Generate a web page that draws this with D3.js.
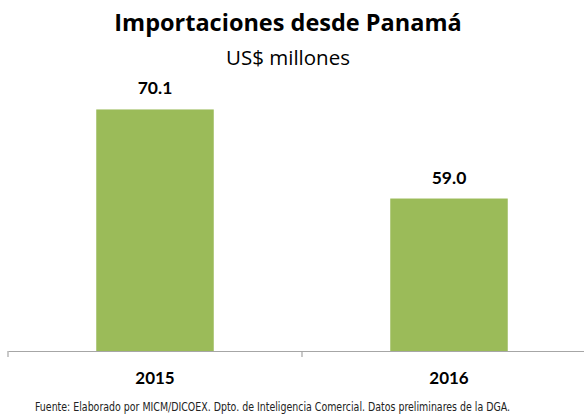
<!DOCTYPE html>
<html>
<head>
<meta charset="utf-8">
<title>Importaciones desde Panamá</title>
<style>
  body { margin: 0; background: #fff; }
  svg { display: block; }
  text { font-family: Lato, "Open Sans", sans-serif; fill: #000; }
</style>
</head>
<body>
<svg id="chart" width="584" height="417"></svg>
<script src="https://cdn.jsdelivr.net/npm/d3@7/dist/d3.min.js"></script>
<script>
// data
var years = ['2015', '2016'];
var values = [70.1, 59.0];
var labels = ['70.1', '59.0'];

var svg = d3.select('#chart');

// plot area (the axis runs past the right edge, as in the original)
var x = d3.scaleBand()
  .domain(years)
  .range([8, 596])
  .paddingInner(0)
  .paddingOuter(0);

var y = d3.scaleLinear()
  .domain([40, 80])
  .range([351, 30]);

var barW = 117.5;

// bars
svg.selectAll('rect.bar')
  .data(values)
  .enter()
  .append('rect')
  .attr('class', 'bar')
  .attr('x', function (d, i) { return x(years[i]) + x.bandwidth() / 2 - barW / 2; })
  .attr('y', function (d) { return y(d); })
  .attr('width', barW)
  .attr('height', function (d) { return y(40) - y(d); })
  .style('fill', '#9bbb59');

// value labels
svg.selectAll('text.val')
  .data(values)
  .enter()
  .append('text')
  .attr('class', 'val')
  .attr('x', function (d, i) { return x(years[i]) + x.bandwidth() / 2; })
  .attr('y', function (d) { return y(d) - 15; })
  .attr('text-anchor', 'middle')
  .style('font-size', '17.5px')
  .style('font-weight', 'bold')
  .text(function (d, i) { return labels[i]; });

// x axis
var axis = d3.axisBottom(x).tickSize(6).tickSizeOuter(0).tickFormat('');
var gx = svg.append('g')
  .attr('transform', 'translate(0,351)')
  .call(axis);
gx.select('.domain').attr('stroke', '#a6a6a6').attr('stroke-width', 1.2);
gx.selectAll('.tick').remove();
// Excel-style tick marks sit on the band edges
gx.selectAll('line.edge')
  .data([8, x.bandwidth() + 8])
  .enter()
  .append('line')
  .attr('x1', function (d) { return d; })
  .attr('x2', function (d) { return d; })
  .attr('y1', 0)
  .attr('y2', 6)
  .attr('stroke', '#a6a6a6')
  .attr('stroke-width', 1.2);

// year labels
svg.selectAll('text.year')
  .data(years)
  .enter()
  .append('text')
  .attr('class', 'year')
  .attr('x', function (d) { return x(d) + x.bandwidth() / 2; })
  .attr('y', 383.5)
  .attr('text-anchor', 'middle')
  .style('font-size', '17px')
  .style('font-weight', 'bold')
  .text(function (d) { return d; });

// title
svg.append('text')
  .attr('x', 288)
  .attr('y', 31)
  .attr('text-anchor', 'middle')
  .style('font-family', '"Open Sans", sans-serif')
  .style('font-size', '23.5px')
  .style('font-weight', 'bold')
  .text('Importaciones desde Panamá');

svg.append('text')
  .attr('x', 288)
  .attr('y', 65)
  .attr('text-anchor', 'middle')
  .style('font-family', '"Open Sans", sans-serif')
  .style('font-size', '20.5px')
  .text('US$ millones');

// source
svg.append('text')
  .attr('x', 35)
  .attr('y', 410.5)
  .attr('textLength', 475)
  .attr('lengthAdjust', 'spacingAndGlyphs')
  .style('font-family', '"Liberation Sans Narrow", "DejaVu Sans Condensed", sans-serif')
  .style('font-size', '11.5px')
  .style('fill', '#222')
  .text('Fuente: Elaborado por MICM/DICOEX. Dpto. de Inteligencia Comercial. Datos preliminares de la DGA.');
</script>
</body>
</html>
